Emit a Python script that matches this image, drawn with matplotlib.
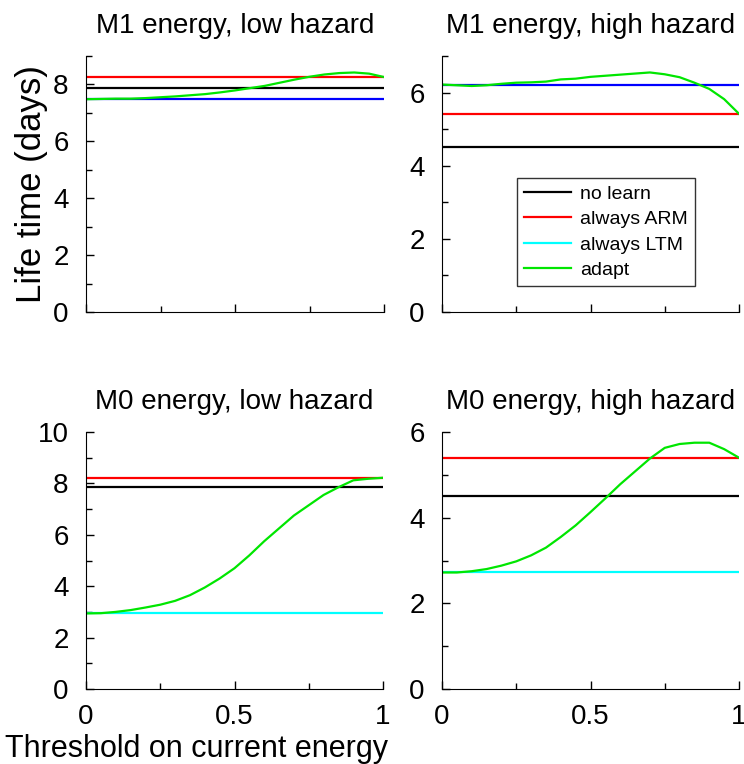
import matplotlib
matplotlib.use("Agg")
import matplotlib.pyplot as plt
from matplotlib.lines import Line2D
from matplotlib.ticker import MultipleLocator

plt.rcParams["font.family"] = ["Liberation Sans", "DejaVu Sans"]

thresholds = [0.00, 0.05, 0.10, 0.15, 0.20, 0.25, 0.30, 0.35, 0.40, 0.45, 0.50,
              0.55, 0.60, 0.65, 0.70, 0.75, 0.80, 0.85, 0.90, 0.95, 1.00]

titles = ["M1 energy, low hazard", "M1 energy, high hazard",
          "M0 energy, low hazard", "M0 energy, high hazard"]

no_learn = [7.88, 4.51, 7.87, 4.51]
always_arm = [8.25, 5.41, 8.22, 5.39]
always_ltm = [7.49, 6.20, 2.94, 2.72]

adapt_m1_low = [7.48, 7.49, 7.50, 7.50, 7.52, 7.55, 7.58, 7.62, 7.66, 7.72, 7.79,
                7.87, 7.95, 8.06, 8.17, 8.27, 8.35, 8.40, 8.42, 8.38, 8.26]
adapt_m1_high = [6.22, 6.20, 6.18, 6.20, 6.24, 6.27, 6.28, 6.30, 6.36, 6.38, 6.43,
                 6.46, 6.49, 6.52, 6.55, 6.50, 6.42, 6.27, 6.10, 5.82, 5.42]
adapt_m0_low = [2.94, 2.95, 3.00, 3.07, 3.17, 3.28, 3.43, 3.65, 3.95, 4.30, 4.70,
                5.20, 5.75, 6.25, 6.75, 7.15, 7.55, 7.85, 8.12, 8.18, 8.22]
adapt_m0_high = [2.72, 2.72, 2.75, 2.80, 2.88, 2.98, 3.12, 3.30, 3.55, 3.82, 4.13,
                 4.45, 4.78, 5.08, 5.38, 5.63, 5.72, 5.75, 5.75, 5.60, 5.40]
adapt = [adapt_m1_low, adapt_m1_high, adapt_m0_low, adapt_m0_high]

y_max = [9, 7, 10, 6]
# top row draws the LTM line in blue, bottom row in cyan
ltm_colors = ["#0000ff", "#0000ff", "#00ffff", "#00ffff"]
green = "#00e600"

W, H = 744, 764
fig = plt.figure(figsize=(W / 100, H / 100), dpi=100)

boxes = [(86, 56, 298, 256), (442, 56, 297, 256),
         (86, 432, 297, 257), (442, 432, 297, 257)]

axes = []
for i, (x0, y0, w, h) in enumerate(boxes):
    ax = fig.add_axes([x0 / W, 1 - (y0 + h) / H, w / W, h / H])
    axes.append(ax)
    lw = 1.6
    ax.plot([0, 1], [no_learn[i]] * 2, color="black", lw=lw)
    ax.plot([0, 1], [always_arm[i]] * 2, color="#ff0000", lw=lw)
    ax.plot([0, 1], [always_ltm[i]] * 2, color=ltm_colors[i], lw=lw)
    ax.plot(thresholds, adapt[i], color=green, lw=lw)

    ax.set_xlim(0, 1)
    ax.set_ylim(0, y_max[i])
    ax.set_title(titles[i], fontsize=20, pad=16.5)
    for s in ["top", "right"]:
        ax.spines[s].set_visible(False)
    ax.xaxis.set_major_locator(MultipleLocator(0.5))
    ax.xaxis.set_minor_locator(MultipleLocator(0.25))
    ax.yaxis.set_major_locator(MultipleLocator(2))
    ax.yaxis.set_minor_locator(MultipleLocator(1))
    ax.tick_params(which="both", direction="in", width=1, labelsize=20)
    ax.tick_params(which="major", length=6)
    ax.tick_params(which="minor", length=4)
    ax.tick_params(axis="x", pad=11)
    ax.tick_params(axis="y", pad=12.5)
    if i < 2:
        ax.tick_params(axis="x", labelbottom=False)
    else:
        ax.set_xticks([0, 0.5, 1])
        ax.set_xticklabels(["0", "0.5", "1"])

axes[0].set_ylabel("Life time (days)", fontsize=25, labelpad=4)

leg_colors = ["black", "#ff0000", "#00ffff", green]
handles = [Line2D([], [], color=c, lw=1.6) for c in leg_colors]
leg = axes[1].legend(handles, ["no learn", "always ARM", "always LTM", "adapt"],
                     loc="upper left", bbox_to_anchor=(0.22, 0.56),
                     fontsize=14, frameon=True, fancybox=False,
                     edgecolor="black", handlelength=2.4, labelspacing=0.4,
                     borderpad=0.35, handletextpad=0.5)
leg.get_frame().set_linewidth(1)

fig.text(5 / W, 1 - 757 / H, "Threshold on current energy", fontsize=22,
         ha="left", va="baseline")

fig.savefig("out.png", dpi=100)
